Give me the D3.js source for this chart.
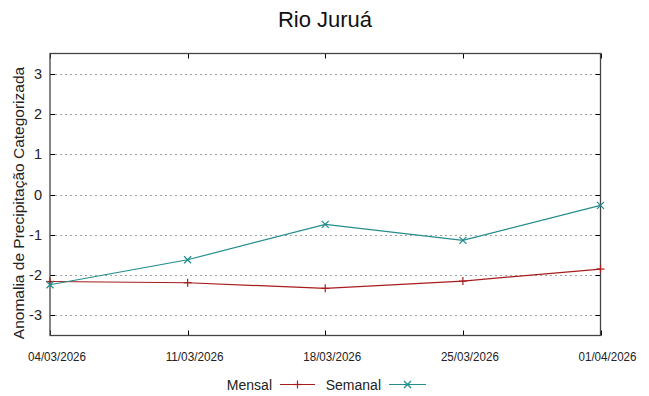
<!DOCTYPE html>
<html>
<head>
<meta charset="utf-8">
<script src="https://cdn.jsdelivr.net/npm/d3@7"></script>
<style>
  body { margin: 0; background: #fff; }
  svg { font-family: "Liberation Sans", Arial, sans-serif; }
</style>
</head>
<body>
<svg id="chart" width="649" height="396"></svg>
<script>
const dates = ["04/03/2026", "11/03/2026", "18/03/2026", "25/03/2026", "01/04/2026"];
const mensal = [-2.16, -2.19, -2.33, -2.15, -1.85];
const semanal = [-2.24, -1.62, -0.74, -1.14, -0.27];
const yTicks = [-3, -2, -1, 0, 1, 2, 3];
const title = "Rio Juruá";
const yLabel = "Anomalia de Precipitação Categorizada";

const svg = d3.select("#chart");
const m = { left: 50, right: 600.5, top: 53.5, bottom: 335.5 };

const x = d3.scalePoint().domain(dates).range([m.left, m.right]);
const y = d3.scaleLinear().domain([-3.5, 3.5]).range([m.bottom, m.top]);

// grid
svg.append("g").selectAll("line").data(yTicks).join("line")
  .attr("x1", m.left).attr("x2", m.right)
  .attr("y1", d => Math.round(y(d)) + 0.5).attr("y2", d => Math.round(y(d)) + 0.5)
  .attr("stroke", "#a0a0a0").attr("stroke-width", 1).attr("stroke-dasharray", "2,3");

// tick marks (inward)
const tk = 5;
const ticksG = svg.append("g").attr("stroke", "#000").attr("stroke-width", 1);
yTicks.forEach(d => {
  const yy = Math.round(y(d)) + 0.5;
  ticksG.append("line").attr("x1", m.left).attr("x2", m.left + tk).attr("y1", yy).attr("y2", yy);
  ticksG.append("line").attr("x1", m.right - tk).attr("x2", m.right).attr("y1", yy).attr("y2", yy);
});
dates.forEach(d => {
  const xx = Math.round(x(d)) + 0.5;
  ticksG.append("line").attr("x1", xx).attr("x2", xx).attr("y1", m.bottom).attr("y2", m.bottom - tk);
  ticksG.append("line").attr("x1", xx).attr("x2", xx).attr("y1", m.top).attr("y2", m.top + tk);
});

// border
svg.append("rect").attr("x", m.left).attr("y", m.top)
  .attr("width", m.right - m.left).attr("height", m.bottom - m.top)
  .attr("fill", "none").attr("stroke", "#444").attr("stroke-width", 1.3);

// y tick labels
svg.append("g").selectAll("text").data(yTicks).join("text")
  .attr("x", 42).attr("y", d => y(d) + 5)
  .attr("text-anchor", "end").attr("font-size", 14.5).attr("fill", "#222")
  .text(d => d);

// x tick labels
svg.append("g").selectAll("text").data(dates).join("text")
  .attr("x", d => x(d) + 7).attr("y", 361)
  .attr("text-anchor", "middle").attr("font-size", 12.5).attr("fill", "#222")
  .attr("textLength", 58).attr("lengthAdjust", "spacingAndGlyphs")
  .text(d => d);

// title
svg.append("text").attr("x", 325).attr("y", 27).attr("text-anchor", "middle")
  .attr("font-size", 22).attr("fill", "#111").text(title);

// y label
svg.append("text").attr("transform", `translate(24,203) rotate(-90)`)
  .attr("text-anchor", "middle").attr("font-size", 15.5).attr("fill", "#222").text(yLabel);

const cM = "#a81c1c", cS = "#238c8c";
const line = d3.line().x((d, i) => x(dates[i])).y(d => y(d));

function plus(g, cx, cy, col) {
  g.append("line").attr("x1", cx - 4).attr("x2", cx + 4).attr("y1", cy).attr("y2", cy).attr("stroke", col);
  g.append("line").attr("x1", cx).attr("x2", cx).attr("y1", cy - 4).attr("y2", cy + 4).attr("stroke", col);
}
function cross(g, cx, cy, col) {
  g.append("line").attr("x1", cx - 3.5).attr("x2", cx + 3.5).attr("y1", cy - 3.5).attr("y2", cy + 3.5).attr("stroke", col);
  g.append("line").attr("x1", cx - 3.5).attr("x2", cx + 3.5).attr("y1", cy + 3.5).attr("y2", cy - 3.5).attr("stroke", col);
}

svg.append("path").datum(mensal).attr("d", line).attr("fill", "none").attr("stroke", cM).attr("stroke-width", 1.2);
const gm = svg.append("g").attr("stroke-width", 1.2);
mensal.forEach((d, i) => plus(gm, x(dates[i]), y(d), cM));

svg.append("path").datum(semanal).attr("d", line).attr("fill", "none").attr("stroke", cS).attr("stroke-width", 1.2);
const gs = svg.append("g").attr("stroke-width", 1.2);
semanal.forEach((d, i) => cross(gs, x(dates[i]), y(d), cS));

// legend
const ly = 384.5;
svg.append("text").attr("x", 272).attr("y", ly + 5).attr("text-anchor", "end").attr("font-size", 14).attr("fill", "#222").text("Mensal");
svg.append("line").attr("x1", 280).attr("x2", 315).attr("y1", ly).attr("y2", ly).attr("stroke", cM).attr("stroke-width", 1.2);
plus(svg.append("g").attr("stroke-width", 1.2), 297.5, ly, cM);
svg.append("text").attr("x", 381).attr("y", ly + 5).attr("text-anchor", "end").attr("font-size", 14).attr("fill", "#222").text("Semanal");
svg.append("line").attr("x1", 389).attr("x2", 426).attr("y1", ly).attr("y2", ly).attr("stroke", cS).attr("stroke-width", 1.2);
cross(svg.append("g").attr("stroke-width", 1.2), 407.5, ly, cS);
</script>
</body>
</html>
